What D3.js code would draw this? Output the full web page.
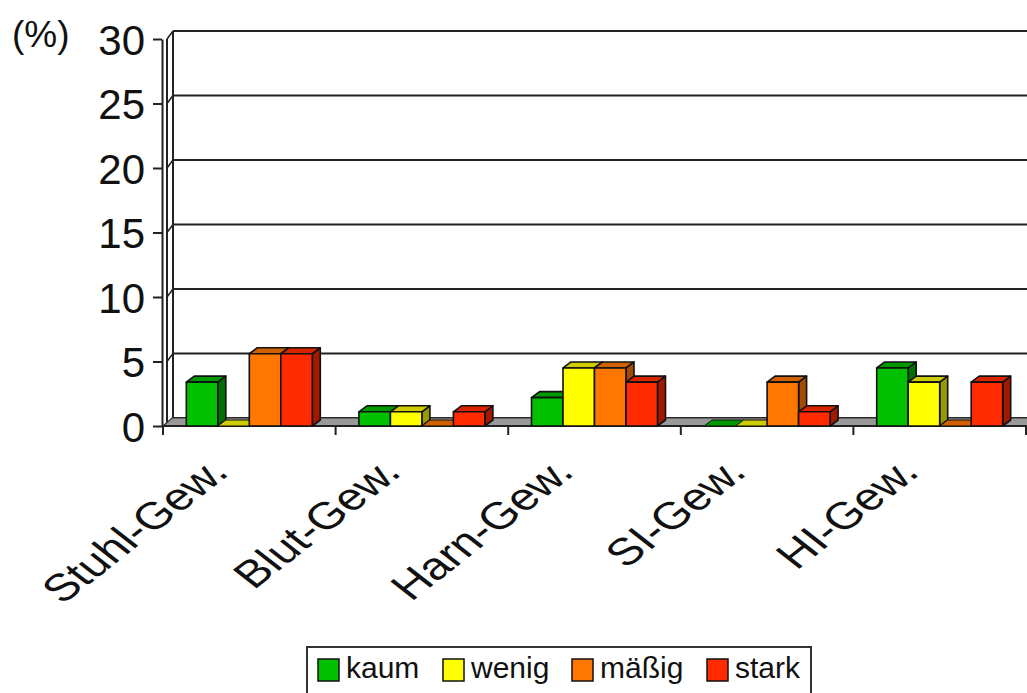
<!DOCTYPE html>
<html>
<head>
<meta charset="utf-8">
<script src="https://cdn.jsdelivr.net/npm/d3@7"></script>
<style>
  html, body { margin: 0; padding: 0; background: #fff; }
  svg { display: block; font-family: "Liberation Sans", Arial, sans-serif; }
</style>
</head>
<body>
<svg id="chart" width="1027" height="693"></svg>
<script>
// Data (%)
const categories = ["Stuhl-Gew.", "Blut-Gew.", "Harn-Gew.", "SI-Gew.", "HI-Gew."];
const seriesNames = ["kaum", "wenig", "mäßig", "stark"];
const kaum  = [3.4, 1.1, 2.2, 0.0, 4.5];
const wenig = [0.0, 1.1, 4.5, 0.0, 3.4];
const massig = [5.6, 0.0, 4.5, 3.4, 0.0];
const stark = [5.6, 1.1, 3.4, 1.1, 3.4];
const yTicks = [0, 5, 10, 15, 20, 25, 30];

const seriesValues = [kaum, wenig, massig, stark];
const palette = {
  "kaum":  { front: "#00c000", top: "#009a00", side: "#007000" },
  "wenig": { front: "#ffff00", top: "#cccc00", side: "#999900" },
  "mäßig": { front: "#ff7700", top: "#d06000", side: "#a34b00" },
  "stark": { front: "#ff2a00", top: "#d92400", side: "#a01a00" }
};

const svg = d3.select("#chart");

// Geometry of the pseudo-3D plot box
const frontLeft = 163, frontRight = 1026;
const wall = { dx: 9, dy: -8 };   // depth of floor / back wall
const bar = { dx: 8, dy: -6 };    // depth of each column

const y = d3.scaleLinear().domain([0, 30]).range([426, 39]);
const x0 = d3.scaleBand().domain(categories).range([frontLeft, frontRight]);
const x1 = d3.scaleBand().domain(seriesNames).range([0, x0.bandwidth()])
  .paddingInner(0).paddingOuter(0.74);

const line = d3.line();

// Back wall gridlines
const grid = svg.append("g");
yTicks.forEach(v => {
  grid.append("line")
    .attr("x1", frontLeft + wall.dx + 1).attr("x2", frontRight + wall.dx + 20)
    .attr("y1", y(v) + wall.dy).attr("y2", y(v) + wall.dy)
    .attr("stroke", "#222").attr("stroke-width", 2);
  // side wall connector
  grid.append("path")
    .attr("d", line([[frontLeft + 4, y(v)], [frontLeft + wall.dx + 1, y(v) + wall.dy]]))
    .attr("stroke", "#222").attr("stroke-width", 1.5).attr("fill", "none");
});

// Side wall edges
svg.append("line")
  .attr("x1", frontLeft + wall.dx + 1).attr("x2", frontLeft + wall.dx + 1)
  .attr("y1", y(30) + wall.dy).attr("y2", y(0) + wall.dy)
  .attr("stroke", "#222").attr("stroke-width", 2);
svg.append("line")
  .attr("x1", frontLeft + 4).attr("x2", frontLeft + 4)
  .attr("y1", y(30)).attr("y2", y(0))
  .attr("stroke", "#222").attr("stroke-width", 2);

// Floor
svg.append("path")
  .attr("d", line([
    [frontLeft, y(0)], [frontRight + 20, y(0)],
    [frontRight + 20 + wall.dx, y(0) + wall.dy], [frontLeft + wall.dx, y(0) + wall.dy]
  ]) + "Z")
  .attr("fill", "#999").attr("stroke", "#333").attr("stroke-width", 1.2);
svg.append("line")
  .attr("x1", frontLeft).attr("x2", 1040)
  .attr("y1", y(0)).attr("y2", y(0))
  .attr("stroke", "#222").attr("stroke-width", 2);

// Columns
const bars = svg.append("g").attr("stroke", "#111").attr("stroke-width", 1.6)
  .attr("stroke-linejoin", "round");
categories.forEach((cat, ci) => {
  seriesNames.forEach((s, si) => {
    const v = seriesValues[si][ci];
    const xl = x0(cat) + x1(s);
    const xr = xl + x1.bandwidth();
    const yt = y(v), yb = y(0);
    const c = palette[s];
    const g = bars.append("g");
    if (v > 0) {
      g.append("path")
        .attr("d", line([[xr, yb], [xr + bar.dx, yb + bar.dy], [xr + bar.dx, yt + bar.dy], [xr, yt]]) + "Z")
        .attr("fill", c.side);
      g.append("path")
        .attr("d", line([[xl, yt], [xr, yt], [xr + bar.dx, yt + bar.dy], [xl + bar.dx, yt + bar.dy]]) + "Z")
        .attr("fill", c.top);
      g.append("rect")
        .attr("x", xl).attr("y", yt)
        .attr("width", x1.bandwidth()).attr("height", yb - yt)
        .attr("fill", c.front);
    } else {
      g.append("path")
        .attr("d", line([[xl, yb], [xr, yb], [xr + bar.dx, yb + bar.dy], [xl + bar.dx, yb + bar.dy]]) + "Z")
        .attr("fill", c.top).attr("stroke-width", 1);
    }
  });
});

// Y axis
const yAxis = d3.axisLeft(y).tickValues(yTicks).tickSize(9).tickSizeOuter(0).tickPadding(8);
const yg = svg.append("g").attr("transform", `translate(${frontLeft - 1},0)`).call(yAxis);
yg.select(".domain").attr("stroke", "#222").attr("stroke-width", 2);
yg.selectAll(".tick line").attr("stroke", "#222").attr("stroke-width", 2);
yg.selectAll(".tick text")
  .attr("font-size", 42).attr("fill", "#111")
  .attr("font-family", "Liberation Sans, Arial, sans-serif")
  .attr("dy", "0.36em");

// Category boundary ticks
const bounds = categories.map(c => x0(c)).concat([frontRight]);
svg.append("g").selectAll("line").data(bounds).join("line")
  .attr("x1", d => d).attr("x2", d => d)
  .attr("y1", y(0)).attr("y2", y(0) + 9)
  .attr("stroke", "#222").attr("stroke-width", 2);

// Category labels (slanted, widened)
svg.append("g").selectAll("text").data(categories).join("text")
  .attr("transform", d => `translate(${x0(d) + x0.bandwidth() / 2 - 19},${y(0) + 48}) scale(1.28,1) rotate(-45)`)
  .attr("text-anchor", "end")
  .attr("font-size", 38).attr("fill", "#111")
  .text(d => d);

// Unit label
svg.append("text")
  .attr("x", 12).attr("y", 47)
  .attr("font-size", 37).attr("fill", "#111")
  .text("(%)");

// Legend
const legend = svg.append("g");
legend.append("rect")
  .attr("x", 307).attr("y", 647).attr("width", 504).attr("height", 60)
  .attr("fill", "#fff").attr("stroke", "#333").attr("stroke-width", 2);
const legendX = [318, 443, 572, 707];
seriesNames.forEach((s, i) => {
  legend.append("rect")
    .attr("x", legendX[i]).attr("y", 659).attr("width", 21).attr("height", 22)
    .attr("fill", palette[s].front).attr("stroke", "#111").attr("stroke-width", 1.5);
  legend.append("text")
    .attr("x", legendX[i] + 28).attr("y", 678)
    .attr("font-size", 30).attr("fill", "#111")
    .text(s);
});
</script>
</body>
</html>
